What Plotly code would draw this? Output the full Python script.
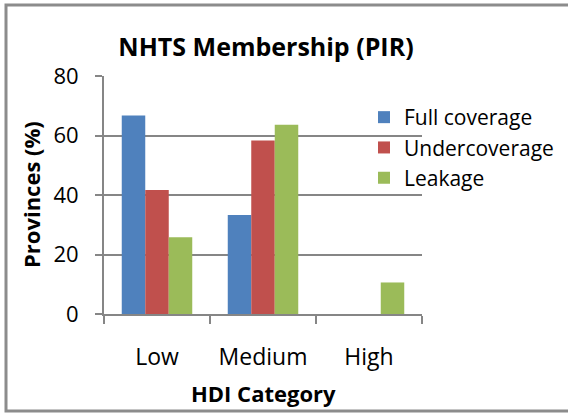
import plotly.graph_objects as go

categories = ["Low", "Medium", "High"]
full_coverage = [66.7, 33.3, 0]
undercoverage = [41.7, 58.3, 0]
leakage = [25.8, 63.6, 10.6]
series_names = ["Full coverage", "Undercoverage", "Leakage"]
colors = ["#4F81BD", "#C0504D", "#9BBB59"]
y_ticks = [0, 20, 40, 60, 80]

FONT = "Open Sans"
W, H = 568, 414
L, R, T, B = 104, 422, 76, 314  # plot area in pixels
PW, PH = R - L, B - T


def px(x):
    return (x - L) / PW


def py(y):
    return (B - y) / PH


fig = go.Figure()
for name, vals, col in zip(series_names, [full_coverage, undercoverage, leakage], colors):
    fig.add_trace(go.Bar(x=categories, y=vals, name=name, legendgroup=name,
                         marker=dict(color=col, line=dict(width=0))))

fig.update_layout(
    width=W, height=H, autosize=False,
    margin=dict(l=L, r=W - R, t=T, b=H - B, autoexpand=False),
    paper_bgcolor="white", plot_bgcolor="white",
    barmode="group", bargap=0.335, bargroupgap=0,
    font=dict(family=FONT, color="black", size=21),
    title=dict(text="<b>NHTS Membership (PIR)</b>", x=266 / W, xanchor="center",
               y=1 - 47 / H, yanchor="middle", font=dict(size=25, family=FONT)),
    showlegend=True,
    legend=dict(x=px(364), y=py(97), xanchor="left", yanchor="top",
                font=dict(size=21), itemwidth=30, tracegroupgap=0, bgcolor="rgba(0,0,0,0)",
                traceorder="grouped"),
    xaxis=dict(showline=True, linecolor="#868686", linewidth=2, ticks="outside", tickson="boundaries",
               ticklen=8, tickcolor="#868686", tickwidth=2, tickfont=dict(size=23),
               showgrid=False, ticklabelstandoff=21),
    yaxis=dict(range=[0, 80], tickvals=y_ticks, showline=True, linecolor="#868686", linewidth=2,
               ticks="outside", ticklen=7, tickcolor="#868686", tickwidth=2,
               showgrid=True, gridcolor="#868686", gridwidth=2, zeroline=False,
               tickfont=dict(size=22), ticklabelstandoff=12),
)
fig.add_annotation(text="<b>Provinces (%)</b>", x=px(31), y=py(195), xref="paper", yref="paper",
                   textangle=-90, showarrow=False, font=dict(size=22), xanchor="center", yanchor="middle")
fig.add_annotation(text="<b>HDI Category</b>", x=px(263), y=py(393), xref="paper", yref="paper",
                   showarrow=False, font=dict(size=22), xanchor="center", yanchor="middle")
fig.add_shape(type="rect", xref="paper", yref="paper", x0=px(6), x1=px(575), y0=py(411), y1=py(5),
              line=dict(color="#8C8C8C", width=3), layer="below")
fig.write_html("out.html", config={"displayModeBar": False},
               post_script="document.body.style.margin='0';")
